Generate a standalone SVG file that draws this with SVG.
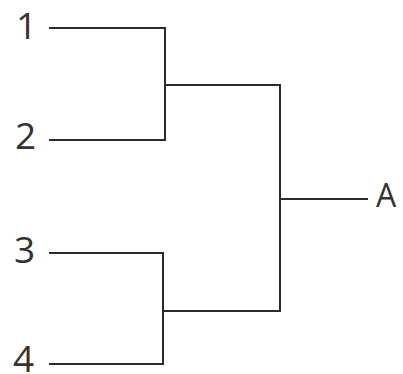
<svg xmlns="http://www.w3.org/2000/svg" width="403" height="374" viewBox="0 0 403 374">
<style>
.ln{fill:none;stroke:#2b2b2b;stroke-width:2;stroke-linecap:square}
.lb{font-family:"Open Sans","Liberation Sans",sans-serif;fill:#333;font-size:37px}
.la{font-family:"Open Sans","Liberation Sans",sans-serif;fill:#333;font-size:32px}
</style>
<rect width="403" height="374" fill="#fff"/>
<g id="connectors">
<path class="ln" d="M50,28 H165 V140 H50"/>
<path class="ln" d="M50,253 H163 V364 H50"/>
<path class="ln" d="M165,85 H280 V311 H163"/>
<path class="ln" d="M280,199 H367"/>
</g>
<g id="n1"><text class="lb" x="16" y="39">1</text></g>
<g id="n2"><text class="lb" x="15" y="149">2</text></g>
<g id="n3"><text class="lb" x="14" y="263">3</text></g>
<g id="n4"><text class="lb" x="13" y="372">4</text></g>
<g id="nA"><text class="la" x="376" y="207">A</text></g>
</svg>
